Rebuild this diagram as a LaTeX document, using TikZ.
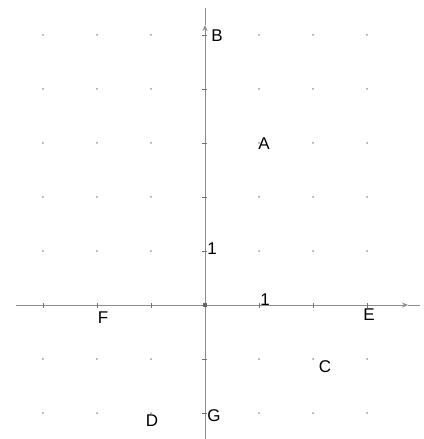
\documentclass[tikz,border=0pt]{standalone}
\usepackage{fontspec}
\setmainfont{Liberation Sans}
\usetikzlibrary{arrows.meta}
\begin{document}
\begin{tikzpicture}[x=54pt,y=54pt,
  axis/.style={draw=black!45, line width=0.9pt},
  tick/.style={draw=black!55, line width=0.8pt},
  griddot/.style={fill=black!40},
  lbl/.style={font=\fontsize{17}{19}\selectfont, inner sep=0pt, text=black},
  num/.style={font=\fontsize{17}{19}\selectfont, inner sep=0pt, text=black}]
\useasboundingbox (-205pt,-134pt) rectangle (218pt,305pt);
% grid dots
\foreach \i in {-3,-2,-1,1,2,3}
  \foreach \j in {-2,-1,1,2,3,4,5}
    \fill[griddot] (\i,\j) circle (1pt);
% axes
\coordinate (xl) at (-189pt,0);
\coordinate (xa) at (203pt,0);
\coordinate (xr) at (215pt,0);
\coordinate (yb) at (0,-134pt);
\coordinate (ya) at (0,280pt);
\coordinate (yt) at (0,297pt);
\draw[axis,-{Stealth[length=6pt,width=5pt]}] (xl) -- (xa);
\draw[axis] (xa) -- (xr);
\draw[axis,-{Stealth[length=6pt,width=5pt]}] (yb) -- (ya);
\draw[axis] (ya) -- (yt);
% ticks
\foreach \i in {-3,...,3}
  \draw[tick] (\i,0) ++(0,-2.5pt) -- ++(0,5pt);
\foreach \j in {-2,...,5}
  \draw[tick] (0,\j) ++(-2.5pt,0) -- ++(5pt,0);
\fill[black!60] (-2pt,-2pt) rectangle (2pt,2pt);
% unit labels
\node[num] (one y) at ([shift={(7pt,2pt)}]0,1) {1};
\node[num] (one x) at ([shift={(6pt,5pt)}]1,0) {1};
% points
\node[lbl] (B) at ([shift={(12pt,-1pt)}]0,5) {B};
\node[lbl] (A) at ([shift={(5pt,-1pt)}]1,3) {A};
\node[lbl] (C) at ([shift={(12pt,-8pt)}]2,-1) {C};
\node[lbl] (D) at ([shift={(1pt,-8pt)}]-1,-2) {D};
\node[lbl] (E) at ([shift={(2pt,-10pt)}]3,0) {E};
\node[lbl] (F) at ([shift={(6pt,-13pt)}]-2,0) {F};
\node[lbl] (G) at ([shift={(9pt,-3pt)}]0,-2) {G};
\end{tikzpicture}
\end{document}
